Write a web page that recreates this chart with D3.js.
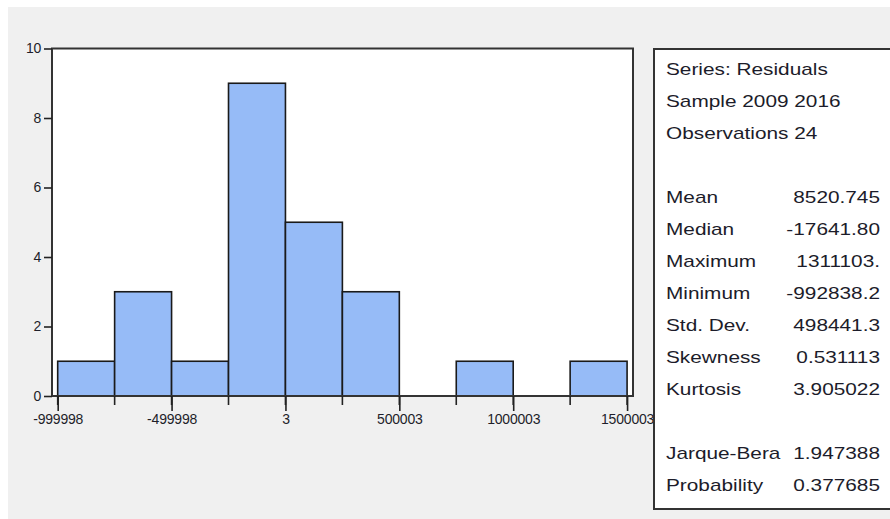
<!DOCTYPE html>
<html><head><meta charset="utf-8">
<script src="https://cdn.jsdelivr.net/npm/d3@7"></script>
<style>
body{margin:0;background:#fff;}
svg{display:block;}
</style></head>
<body>
<svg id="c" width="890" height="519"></svg>
<script>
const binEdges = [-999998,-749998,-499998,-249998,3,250003,500003,750003,1000003,1250003,1500003];
const binCounts = [1,3,1,9,5,3,0,1,0,1];
const xTickValues = [-999998,-499998,3,500003,1000003,1500003];
const xTickLabels = ["-999998","-499998","3","500003","1000003","1500003"];
const yTickValues = [0,2,4,6,8,10];
const headerLines = ["Series: Residuals","Sample 2009 2016","Observations 24"];
const statNames = ["Mean","Median","Maximum","Minimum","Std. Dev.","Skewness","Kurtosis"];
const statValues = ["8520.745","-17641.80","1311103.","-992838.2","498441.3","0.531113","3.905022"];
const testNames = ["Jarque-Bera","Probability"];
const testValues = ["1.947388","0.377685"];

const svg = d3.select("#c");
svg.append("rect").attr("x",8).attr("y",7).attr("width",882).attr("height",512).attr("fill","#f0f0f0");

const L=52, R=633, T=48.5, B=396;
const x = d3.scaleLinear().domain([-1025000,1526000]).range([L,R]);
const y = d3.scaleLinear().domain([0,10]).range([B,T]);

svg.append("rect").attr("x",L).attr("y",T).attr("width",R-L).attr("height",B-T).attr("fill","#fff");

const bins = binCounts.map((c,i)=>({x0:binEdges[i],x1:binEdges[i+1],c}));
svg.append("g").selectAll("rect").data(bins.filter(d=>d.c>0)).join("rect")
  .attr("x",d=>x(d.x0)).attr("y",d=>y(d.c))
  .attr("width",d=>x(d.x1)-x(d.x0)).attr("height",d=>y(0)-y(d.c))
  .attr("fill","#96bbf7").attr("stroke","#1a1a1a").attr("stroke-width",1.6);

svg.append("rect").attr("x",L).attr("y",T).attr("width",R-L).attr("height",B-T)
  .attr("fill","none").attr("stroke","#333").attr("stroke-width",2);

svg.append("g").selectAll("line").data(binEdges).join("line")
  .attr("x1",d=>x(d)).attr("x2",d=>x(d)).attr("y1",B).attr("y2",B+9)
  .attr("stroke","#222").attr("stroke-width",1.6);
const xAxis = d3.axisBottom(x).tickValues(xTickValues).tickSize(15).tickFormat((d,i)=>xTickLabels[i]);
const gx = svg.append("g").attr("transform",`translate(0,${B})`).call(xAxis);
gx.select(".domain").remove();
gx.selectAll(".tick line").attr("stroke","#222").attr("stroke-width",1.6);
gx.selectAll(".tick text").attr("dy",0).attr("y",28).attr("fill","#1e1e2a")
  .style("font-family","Liberation Sans, Arial, sans-serif").style("font-size","14px").style("letter-spacing","-0.2px");

const yAxis = d3.axisLeft(y).tickValues(yTickValues).tickSize(8).tickPadding(3);
const gy = svg.append("g").attr("transform",`translate(${L},0)`).call(yAxis);
gy.select(".domain").remove();
gy.selectAll(".tick line").attr("stroke","#222").attr("stroke-width",1.6);
gy.selectAll(".tick text").attr("fill","#1e1e2a")
  .style("font-family","Liberation Sans, Arial, sans-serif").style("font-size","14px").style("letter-spacing","-0.3px");

svg.append("rect").attr("x",654).attr("y",49).attr("width",250).attr("height",460)
  .attr("fill","#fff").attr("stroke","#333").attr("stroke-width",2);
const tf = "Liberation Sans, Arial, sans-serif";
const tx = svg.append("g").style("font-family",tf).style("font-size","16px").attr("fill","#1c1c2a");
const SX = 1.3;
function put(s, px, py, anchor){
  tx.append("text").attr("transform",`translate(${px},${py}) scale(${SX},1)`)
    .attr("text-anchor",anchor||"start").text(s);
}
headerLines.forEach((s,i)=>put(s,666,75+i*32));
statNames.forEach((s,i)=>{ put(s,666,203+i*32); put(statValues[i],880,203+i*32,"end"); });
testNames.forEach((s,i)=>{ put(s,666,459+i*32); put(testValues[i],880,459+i*32,"end"); });
</script>
</body></html>
